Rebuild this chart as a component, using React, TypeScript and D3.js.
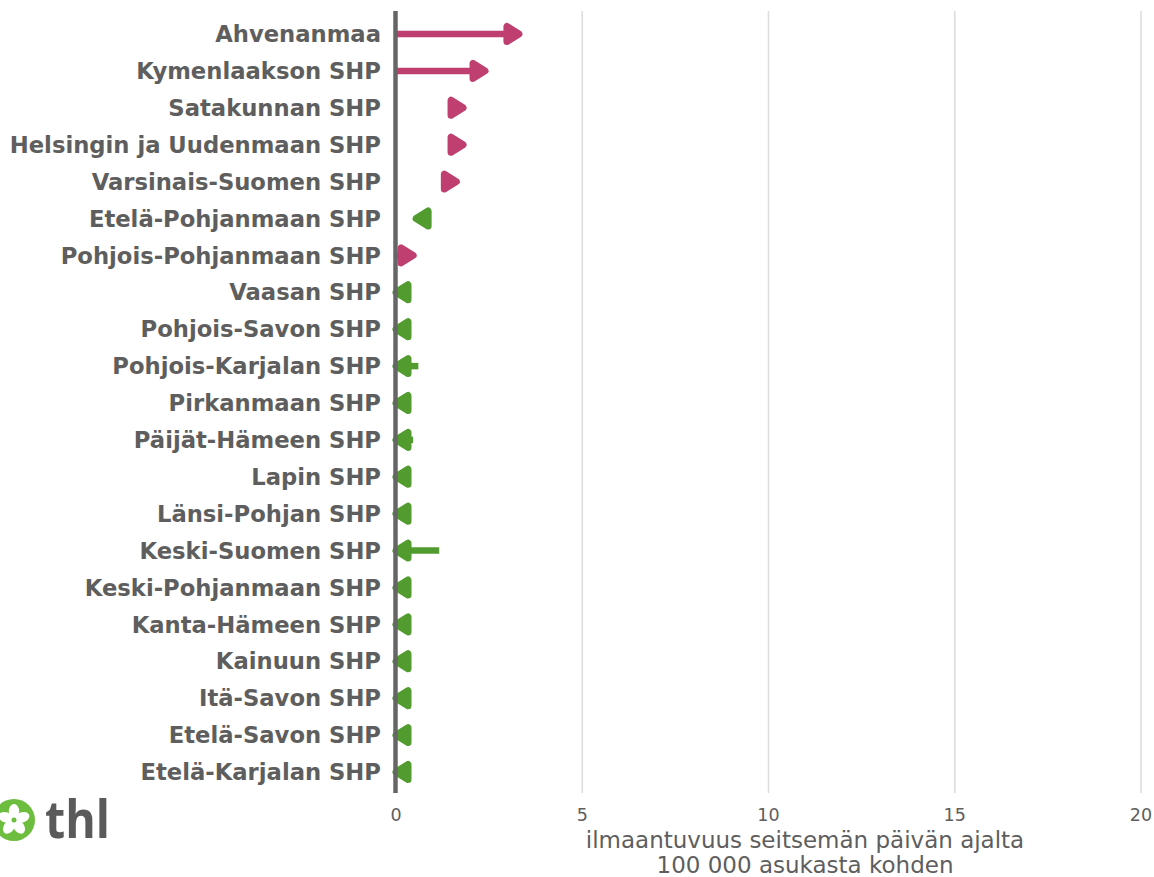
import React from "react";
import * as d3 from "d3";

const regions = [
  "Ahvenanmaa",
  "Kymenlaakson SHP",
  "Satakunnan SHP",
  "Helsingin ja Uudenmaan SHP",
  "Varsinais-Suomen SHP",
  "Etelä-Pohjanmaan SHP",
  "Pohjois-Pohjanmaan SHP",
  "Vaasan SHP",
  "Pohjois-Savon SHP",
  "Pohjois-Karjalan SHP",
  "Pirkanmaan SHP",
  "Päijät-Hämeen SHP",
  "Lapin SHP",
  "Länsi-Pohjan SHP",
  "Keski-Suomen SHP",
  "Keski-Pohjanmaan SHP",
  "Kanta-Hämeen SHP",
  "Kainuun SHP",
  "Itä-Savon SHP",
  "Etelä-Savon SHP",
  "Etelä-Karjalan SHP",
];
const previous = [0, 0, 1.45, 1.45, 1.27, 0.9, 0, 0.3, 0.3, 0.6, 0.3, 0.46, 0.3, 0.3, 1.16, 0.3, 0.3, 0.3, 0.3, 0.3, 0.3];
const current = [3.3, 2.39, 1.8, 1.8, 1.62, 0.54, 0.46, 0, 0, 0, 0, 0, 0, 0, 0, 0, 0, 0, 0, 0, 0];
const xTicks = [0, 5, 10, 15, 20];
const axisTitle = ["ilmaantuvuus seitsemän päivän ajalta", "100 000 asukasta kohden"];

const W = 1154;
const H = 877;
const UP = "#bf3f70";
const DOWN = "#519b2f";

export default function App() {
  const x = d3.scaleLinear().domain([0, 20]).range([396, 1141]);
  const y = d3.scalePoint<string>().domain(regions).range([34, 772]);
  const headLen = 12;
  const headHalf = 7.5;
  const headStroke = 7;
  const font = "'DejaVu Sans', sans-serif";

  return (
    <svg width={W} height={H} style={{ position: "absolute", left: 0, top: 0, background: "#fff" }}>
      {xTicks.filter((t) => t !== 0).map((t) => (
        <line key={t} x1={x(t)} x2={x(t)} y1={11} y2={793} stroke="#dddddd" strokeWidth={1.6} />
      ))}
      {regions.map((r, i) => {
        const x0 = x(previous[i]);
        const x1 = x(current[i]);
        const dir = x1 >= x0 ? 1 : -1;
        const col = dir > 0 ? UP : DOWN;
        const yy = y(r) as number;
        const base = x1 - dir * headLen;
        return (
          <g key={r}>
            <line x1={x0} x2={x1 - dir * headLen * 0.5} y1={yy} y2={yy} stroke={col} strokeWidth={6.5} />
            <path
              d={`M${x1},${yy} L${base},${yy - headHalf} L${base},${yy + headHalf} Z`}
              fill={col}
              stroke={col}
              strokeWidth={headStroke}
              strokeLinejoin="round"
            />
          </g>
        );
      })}
      <line x1={x(0) - 0.5} x2={x(0) - 0.5} y1={11} y2={793} stroke="#666666" strokeWidth={4.5} />
      {regions.map((r) => (
        <text
          key={"l" + r}
          x={381}
          y={y(r) as number}
          dy="0.36em"
          textAnchor="end"
          fontFamily={font}
          fontWeight="bold"
          fontSize={22.7}
          fill="#5e5e5e"
        >
          {r}
        </text>
      ))}
      {xTicks.map((t) => (
        <text key={"t" + t} x={x(t)} y={821} textAnchor="middle" fontFamily={font} fontSize={17.5} fill="#5e5e5e">
          {t}
        </text>
      ))}
      {axisTitle.map((s, i) => (
        <text key={"a" + i} x={805} y={848 + i * 25} textAnchor="middle" fontFamily={font} fontSize={23} fill="#5e5e5e">
          {s}
        </text>
      ))}
      <g transform="translate(14,820)">
        <circle r={21} fill="#6dbd3e" />
        {[0, 72, 144, 216, 288].map((a) => (
          <ellipse key={a} cx={0} cy={-8.5} rx={5.2} ry={7.5} fill="#fff" transform={`rotate(${a})`} />
        ))}
        <circle r={2.5} fill="#6dbd3e" />
      </g>
      <text
        x={45}
        y={838}
        fontFamily="'Open Sans', sans-serif"
        fontWeight="bold"
        fontSize={52}
        fill="#5a5a5a"
        textLength={65}
        lengthAdjust="spacingAndGlyphs"
      >
        thl
      </text>
    </svg>
  );
}
